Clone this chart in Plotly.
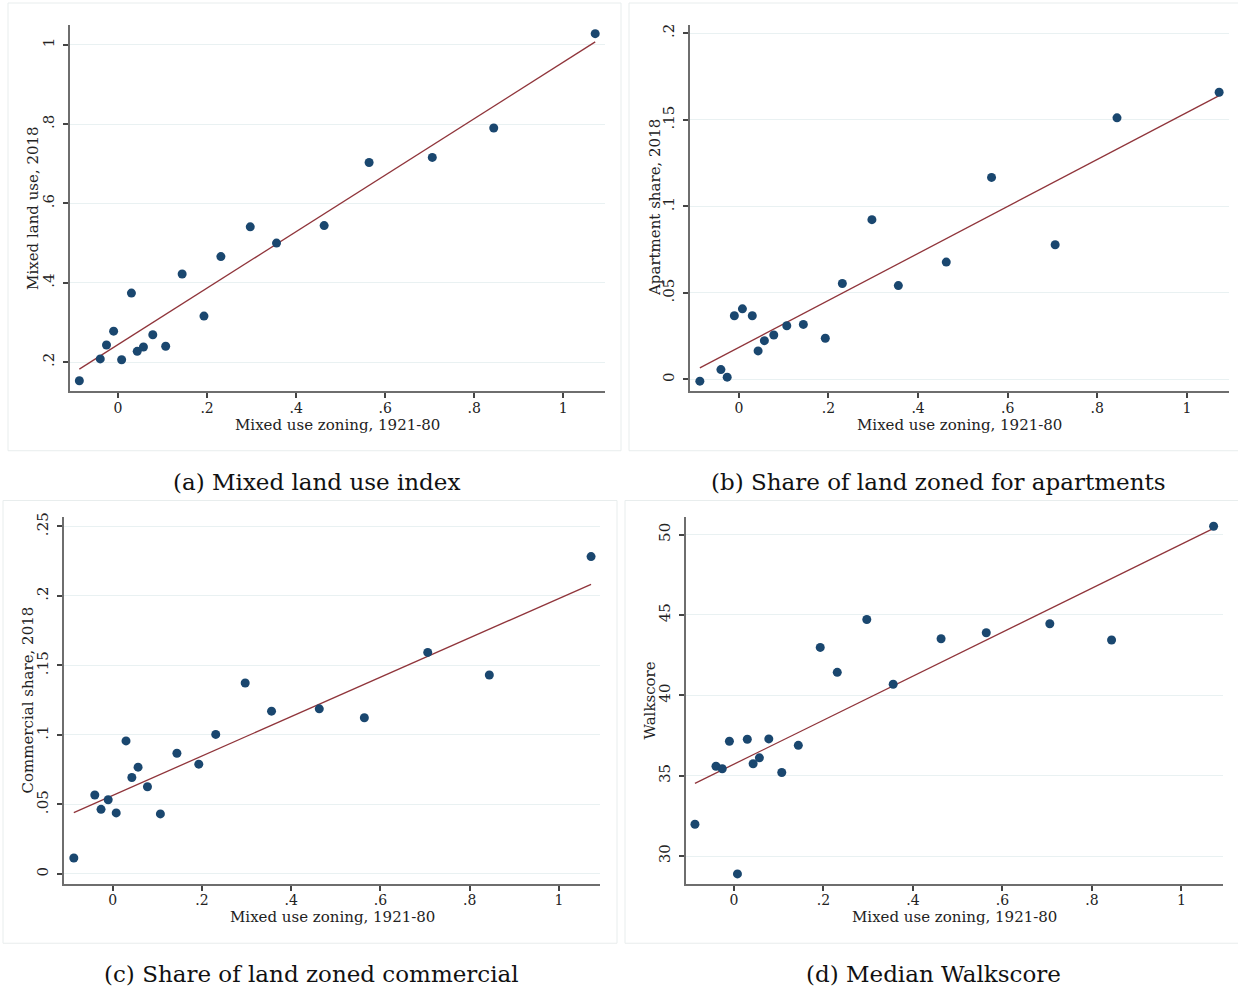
import numpy as np
import plotly.graph_objects as go

# ---- data ----
mixed_zoning = [-0.087, -0.040, -0.026, -0.010, 0.008, 0.030, 0.043, 0.057, 0.078, 0.107,
                0.144, 0.193, 0.231, 0.297, 0.356, 0.463, 0.564, 0.706, 0.844, 1.072]
mixed_land_use = [0.153, 0.208, 0.243, 0.278, 0.206, 0.374, 0.227, 0.238, 0.269, 0.240,
                  0.422, 0.316, 0.466, 0.541, 0.500, 0.544, 0.703, 0.716, 0.790, 1.028]
apartment_share = [-0.001, 0.0057, 0.0013, 0.0368, 0.0408, 0.0368, 0.0165, 0.0224, 0.0257, 0.0310,
                   0.0318, 0.0238, 0.0554, 0.0923, 0.0542, 0.0678, 0.1167, 0.0778, 0.1511, 0.1659]
commercial_share = [0.0115, 0.0568, 0.0465, 0.0534, 0.0439, 0.0957, 0.0694, 0.0768, 0.0627, 0.0432,
                    0.0868, 0.0790, 0.1004, 0.1374, 0.1171, 0.1188, 0.1124, 0.1594, 0.1431, 0.2283]
walkscore = [31.98, 35.59, 35.43, 37.14, 28.89, 37.27, 35.74, 36.11, 37.29, 35.20,
             36.89, 42.98, 41.43, 44.72, 40.69, 43.52, 43.89, 44.45, 43.44, 50.52]

x_ticks = [0, 0.2, 0.4, 0.6, 0.8, 1]
x_ticktext = ["0", ".2", ".4", ".6", ".8", "1"]
ya_ticks, ya_text = [0.2, 0.4, 0.6, 0.8, 1], [".2", ".4", ".6", ".8", "1"]
yb_ticks, yb_text = [0, 0.05, 0.1, 0.15, 0.2], ["0", ".05", ".1", ".15", ".2"]
yc_ticks, yc_text = [0, 0.05, 0.1, 0.15, 0.2, 0.25], ["0", ".05", ".1", ".15", ".2", ".25"]
yd_ticks, yd_text = [30, 35, 40, 45, 50], ["30", "35", "40", "45", "50"]

x_title = "Mixed use zoning, 1921-80"
y_titles = ["Mixed land use, 2018", "Apartment share, 2018", "Commercial share, 2018", "Walkscore"]
captions = ["(a) Mixed land use index", "(b) Share of land zoned for apartments",
            "(c) Share of land zoned commercial", "(d) Median Walkscore"]

# ---- layout geometry (pixels in 1238x991 canvas) ----
W, H = 1238, 991
FONT = "DejaVu Serif"
NAVY = "#1a476f"
MAROON = "#90353b"

panels = [
    dict(pl=70, pr=605, pt=20, pb=388, xr=[-0.108, 1.094], yr=[0.127, 1.050],
         yv=mixed_land_use, yt=(ya_ticks, ya_text), ytx=33, cap=(316, 479), box=(8, 621, -2, 448)),
    dict(pl=690, pr=1229, pt=20, pb=388, xr=[-0.109, 1.094], yr=[-0.0067, 0.2048],
         yv=apartment_share, yt=(yb_ticks, yb_text), ytx=655, cap=(938, 479), box=(629, 1240, -2, 448)),
    dict(pl=64, pr=600, pt=515, pb=883, xr=[-0.109, 1.092], yr=[-0.0069, 0.2565],
         yv=commercial_share, yt=(yc_ticks, yc_text), ytx=28, cap=(311, 974), box=(3, 617, 498, 943)),
    dict(pl=686, pr=1223, pt=515, pb=883, xr=[-0.107, 1.093], yr=[28.29, 51.07],
         yv=walkscore, yt=(yd_ticks, yd_text), ytx=650, cap=(934, 974), box=(625, 1240, 498, 943)),
]

fig = go.Figure()
shapes, annotations = [], []
x = np.array(mixed_zoning)

for i, p in enumerate(panels):
    k = "" if i == 0 else str(i + 1)
    xa, ya = "x" + k, "y" + k
    y = np.array(p["yv"])
    slope, intercept = np.polyfit(x, y, 1)
    xf = np.array([x.min(), x.max()])
    fig.add_trace(go.Scatter(x=xf, y=intercept + slope * xf, mode="lines",
                             line=dict(color=MAROON, width=1.3), xaxis=xa, yaxis=ya,
                             showlegend=False, hoverinfo="skip"))
    fig.add_trace(go.Scatter(x=x, y=y, mode="markers",
                             marker=dict(color=NAVY, size=9, line=dict(width=0)),
                             xaxis=xa, yaxis=ya, showlegend=False))

    axis_common = dict(showline=True, linecolor="#6e6e6e", linewidth=2, ticks="outside",
                       ticklen=5, tickwidth=1.5, tickcolor="#444444", zeroline=False)
    fig.layout["xaxis" + k] = dict(domain=[p["pl"] / W, p["pr"] / W], range=p["xr"],
                                   anchor=ya, tickvals=x_ticks, ticktext=x_ticktext,
                                   showgrid=False, ticklabelstandoff=-2,
                                   tickfont=dict(family=FONT, size=14, color="#222222"),
                                   **axis_common)
    fig.layout["yaxis" + k] = dict(domain=[1 - p["pb"] / H, 1 - p["pt"] / H], range=p["yr"],
                                   anchor=xa, tickvals=p["yt"][0], ticktext=p["yt"][1],
                                   tickangle=-90, showgrid=True, gridcolor="#e9f1f2", gridwidth=1,
                                   ticklabelstandoff=3,
                                   tickfont=dict(family=FONT, size=15, color="#222222"),
                                   **axis_common)

    # axis titles
    annotations.append(dict(text=x_title, x=(p["pl"] + p["pr"]) / 2 / W, y=1 - (p["pb"] + 34) / H,
                            xref="paper", yref="paper", showarrow=False, xanchor="center",
                            yanchor="middle", font=dict(family=FONT, size=15, color="#222222")))
    annotations.append(dict(text=y_titles[i], x=p["ytx"] / W, y=1 - (p["pt"] + p["pb"]) / 2 / H,
                            xref="paper", yref="paper", showarrow=False, textangle=-90,
                            xanchor="center", yanchor="middle",
                            font=dict(family=FONT, size=15, color="#222222")))
    annotations.append(dict(text=captions[i], x=p["cap"][0] / W, y=1 - p["cap"][1] / H,
                            xref="paper", yref="paper", showarrow=False, xanchor="center",
                            yanchor="middle", font=dict(family=FONT, size=23, color="#111111")))
    bx0, bx1, by0, by1 = p["box"]
    shapes.append(dict(type="rect", xref="paper", yref="paper", x0=bx0 / W, x1=bx1 / W,
                       y0=1 - by1 / H, y1=1 - by0 / H, line=dict(color="#e8eded", width=1),
                       layer="below"))

fig.update_layout(width=W, height=H, margin=dict(l=0, r=0, t=0, b=0),
                  paper_bgcolor="white", plot_bgcolor="white",
                  shapes=shapes, annotations=annotations)

fig.write_html("out.html")
